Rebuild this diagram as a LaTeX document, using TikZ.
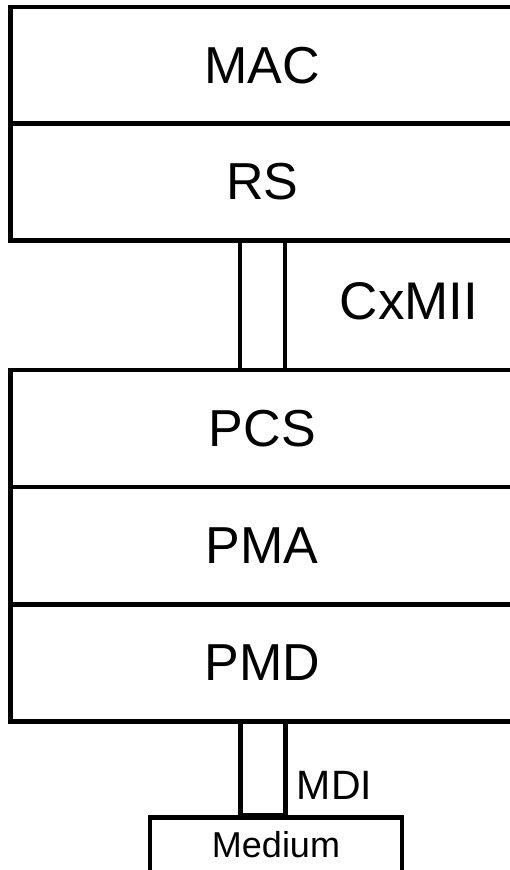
\documentclass[tikz,border=0pt]{standalone}
\usepackage{fontspec}
\setmainfont{Liberation Sans}

\begin{document}
\begin{tikzpicture}[x=1pt, y=-1pt,
    layer/.style ={rectangle, draw, line width=4.5pt, inner sep=0pt, minimum width=503.5pt, minimum height=117pt, font=\fontsize{52}{60}\selectfont},
    link/.style ={rectangle, draw, line width=4.5pt, inner sep=0pt, minimum width=45pt},
    tag/.style ={inner sep=0pt}]
   \useasboundingbox (0,0) rectangle (510,870);
   \clip (0,0) rectangle (510,870);

   \node[layer] (MAC) at (262.25,65.5)  {MAC};
   \node[layer] (RS)  at (262.25,182)  {RS};

   \node[layer] (PCS) at (262.25,428.5)  {PCS};
   \node[layer] (PMA) at (262.25,545.5)  {PMA};
   \node[layer] (PMD) at (262.25,663)  {PMD};

   \node[link, minimum height=130pt] (CXMII) at (262.5,305)  {};
   \node[link, minimum height=93pt] (MDI) at (263,768.5)  {};

   \node[rectangle, draw, line width=4.5pt, inner sep=0pt, minimum width=252pt, text height=40pt, text depth=20pt, font=\fontsize{36}{42}\selectfont, anchor=north] (Medium) at (276,815)  {Medium};

   \node[tag, font=\fontsize{53}{60}\selectfont] (CXMIIlabel) at (409,301)  {CxMII};
   \node[tag, font=\fontsize{41}{48}\selectfont] (MDIlabel) at (334.5,785)  {MDI};
 \end{tikzpicture}
\end{document}
